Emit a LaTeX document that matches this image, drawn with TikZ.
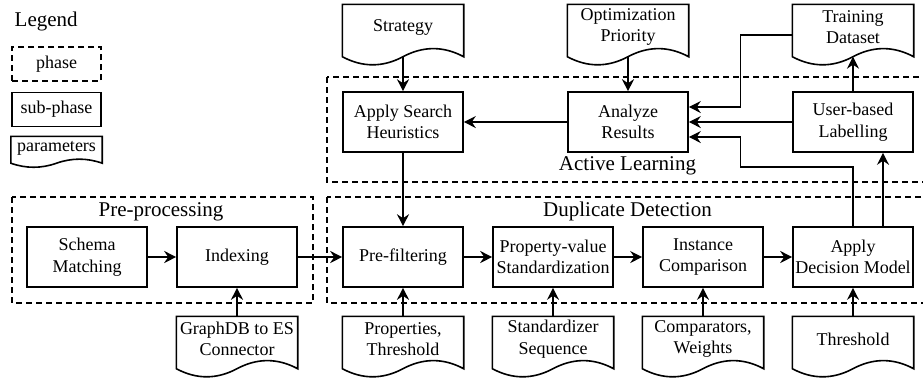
\documentclass[tikz,border=0pt]{standalone}
\usepackage{fontspec}
\setmainfont{Liberation Serif}
\usepackage{tikz}
\usetikzlibrary{calc, arrows.meta}
\tikzstyle{subphase}=[draw, line width=0.8pt, minimum width=60pt, minimum height=30pt, align=center, inner sep=0.5pt]
\tikzstyle{param}=[minimum width=60pt, minimum height=22pt, align=center, inner sep=0.5pt]
\tikzstyle{phase}=[draw, line width=0.6pt, dash pattern=on 3pt off 2pt]
\tikzstyle{heavy}=[line width=1.2pt]
\tikzstyle{title}=[anchor=base, inner sep=0pt, font=\fontsize{10.5}{12.6}\selectfont]
% outline of a parameter sheet: node, drop below the node, depth of the wave
\newcommand{\paramshape}[3]{%
  \draw[line width=0.8pt] (#1.north west) -- (#1.north east)
    -- ($(#1.south east)+(0,-#2+#3/2)$)
    .. controls ($(#1.south east)!1/6!(#1.south west)+(0,-#2+1.1*#3)$) and ($(#1.south east)!1/3!(#1.south west)+(0,-#2+1.1*#3)$) .. ($(#1.south)+(0,-#2+#3/2)$)
    .. controls ($(#1.south east)!2/3!(#1.south west)+(0,-#2-0.1*#3)$) and ($(#1.south east)!5/6!(#1.south west)+(0,-#2-0.1*#3)$) .. ($(#1.south west)+(0,-#2+#3/2)$)
    -- cycle;}

\begin{document}
\begin{tikzpicture}[x=1pt,y=1pt,node distance=75pt,line width=0.7pt,>={Stealth[length=6pt,width=6pt,inset=2pt]},font=\fontsize{9}{10.8}\selectfont]
  \useasboundingbox (0,0) rectangle (461.5,-188.5);
  % legend
  \node [title, anchor=base west] (legend) at (7,-13) {Legend};
  \node [phase, minimum width=44.5pt, minimum height=17pt] (lphase) at (28.25,-32) {phase};
  \node [subphase, minimum width=44.5pt, minimum height=17pt] (lsub) at (28.25,-54.75) {sub-phase};
  \node [param, minimum width=45pt, minimum height=11pt] (lparam) at (28.25,-74) {parameters};
  \paramshape{lparam}{4}{4.5}
  % phases
  \draw [phase] (6,-98.5) rectangle (156.5,-151.5);
  \draw [phase] (163.5,-98.5) rectangle (464,-151.5);
  \draw [phase] (163.5,-38.5) rectangle (464,-91);
  \node [title] (pretitle) at (80.5,-108.3) {Pre-processing};
  \node [title] (duptitle) at (313.75,-108.3) {Duplicate Detection};
  \node [title] (acttitle) at (313.75,-85) {Active Learning};
  % sub-phases
  \node [subphase] (schema) at (43.5,-128.5) {Schema\\Matching};
  \node [subphase] (index) [right of=schema] {Indexing};
  \node [subphase] (prefilter) [right of=index, node distance=83pt] {Pre-filtering};
  \node [subphase] (standard) [right of=prefilter] {Property-value\\Standardization};
  \node [subphase] (compare) [right of=standard] {Instance\\Comparison};
  \node [subphase] (decision) [right of=compare] {Apply\\Decision Model};
  \node [subphase] (search) [above of=prefilter, node distance=67.5pt] {Apply Search\\Heuristics};
  \node [subphase] (analyze) [right of=search, node distance=112.5pt] {Analyze\\Results};
  \node [subphase] (labelling) [right of=analyze, node distance=112.5pt] {User-based\\Labelling};
  % parameters
  \node [param] (strategy) [above of=search, node distance=47.5pt] {Strategy};
  \node [param] (priority) [above of=analyze, node distance=47.5pt] {Optimization\\Priority};
  \node [param] (dataset) [above of=labelling, node distance=47.5pt] {Training\\Dataset};
  \node [param] (connector) [below of=index, node distance=41pt] {GraphDB to ES\\Connector};
  \node [param] (props) [below of=prefilter, node distance=41pt] {Properties,\\Threshold};
  \node [param] (sequence) [below of=standard, node distance=41pt] {Standardizer\\Sequence};
  \node [param] (weights) [below of=compare, node distance=41pt] {Comparators,\\Weights};
  \node [param] (threshold) [below of=decision, node distance=41pt] {Threshold};
  \foreach \n in {strategy,priority,dataset,connector,props,sequence,weights,threshold}
    \paramshape{\n}{8}{9};
  % connectors
  \coordinate (mid) at ($(analyze.east)!0.5!(labelling.west)$);
  \draw[->] ([yshift=-3.5pt]strategy.south) -- (search);
  \draw[->, heavy] ([yshift=-3.5pt]priority.south) -- (analyze);
  \path[->] (analyze) edge (search)
            (labelling) edge (analyze)
            (search) edge (prefilter)
            (standard) edge (compare)
            (sequence) edge (standard)
            (weights) edge (compare)
            (threshold) edge (decision);
  \path[->, heavy] (schema) edge (index)
            (index) edge (prefilter)
            (prefilter) edge (standard)
            (compare) edge (decision)
            (connector) edge (index)
            (props) edge (prefilter);
  \draw[->] ([yshift=-4pt]dataset.west) -| ($(mid)+(0,7.5)$) -- ([yshift=7.5pt]analyze.east);
  \draw[->] (decision.north) |- ($(mid)+(0,-22.5)$) |- ([yshift=-7.5pt]analyze.east);
  \draw[->] ([xshift=15pt]decision.north) -- ([xshift=15pt]labelling.south);
  \draw[->] (labelling) -- ([yshift=-3.5pt]dataset.south);
\end{tikzpicture}
\end{document}
